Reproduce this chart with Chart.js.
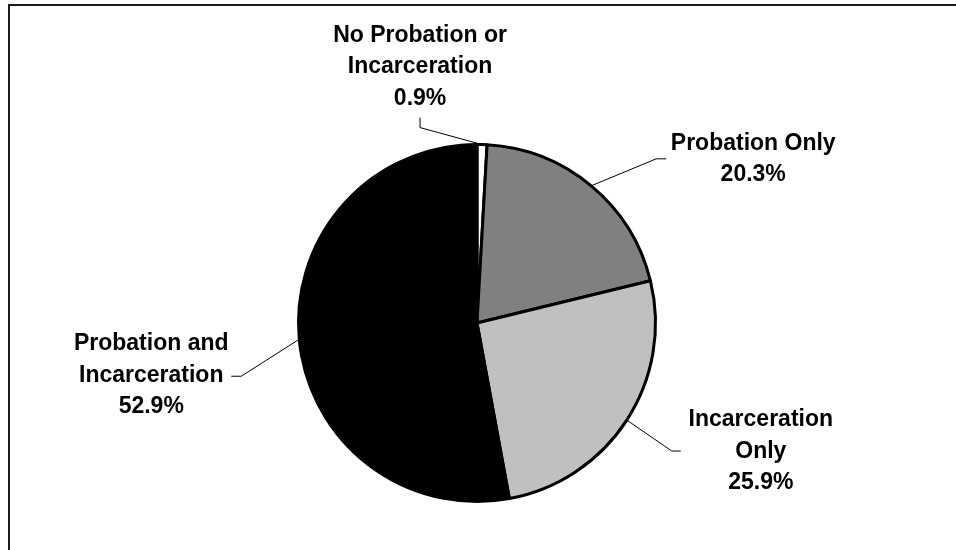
<!DOCTYPE html>
<html>
<head>
<meta charset="utf-8">
<script src="https://cdn.jsdelivr.net/npm/chart.js@4.4.1/dist/chart.umd.min.js"></script>
<style>
  html, body { margin: 0; padding: 0; background: #fff; }
  #wrap { position: relative; width: 956px; height: 550px; }
</style>
</head>
<body>
<div id="wrap"><canvas id="pieChart" width="956" height="550"></canvas></div>
<script>
// --- data ---
const categories = [
    ['No Probation or', 'Incarceration'],
    ['Probation Only'],
    ['Incarceration', 'Only'],
    ['Probation and', 'Incarceration']
];
const shares = [0.9, 20.3, 25.9, 52.9];
const sliceColors = ['#ffffff', '#808080', '#c0c0c0', '#000000'];

// label placement relative to the slice edge point (style only)
const labelLayout = [
    { elbow: [-62, -17], tick: [-62, -27], text: [-62, -103] },
    { elbow: [65, -27], tick: [75, -27], text: [162, -36] },
    { elbow: [45, 31], tick: [54, 31], text: [134, 6] },
    { elbow: [-58, 37], tick: [-68, 37], text: [-148, 11] }
];

// frame around the chart (only top/left edges visible in the window)
const framePlugin = {
    id: 'frame',
    beforeDraw(chart) {
        const ctx = chart.ctx;
        ctx.save();
        ctx.strokeStyle = '#1a1a1a';
        ctx.lineWidth = 2;
        ctx.beginPath();
        ctx.moveTo(9, chart.height + 5);
        ctx.lineTo(9, 5);
        ctx.lineTo(chart.width + 5, 5);
        ctx.stroke();
        ctx.restore();
    }
};

// data labels with leader lines
const leaderLabels = {
    id: 'leaderLabels',
    afterDatasetsDraw(chart) {
        const ctx = chart.ctx;
        const meta = chart.getDatasetMeta(0);
        ctx.save();
        ctx.font = 'bold 23px "Liberation Sans", Arial, sans-serif';
        ctx.fillStyle = '#000';
        ctx.textAlign = 'center';
        ctx.textBaseline = 'alphabetic';
        meta.data.forEach((arc, i) => {
            const { x, y, startAngle, endAngle, outerRadius } = arc.getProps(['x', 'y', 'startAngle', 'endAngle', 'outerRadius'], true);
            const mid = (startAngle + endAngle) / 2;
            const ex = x + Math.cos(mid) * outerRadius;
            const ey = y + Math.sin(mid) * outerRadius;
            const L = labelLayout[i];

            ctx.strokeStyle = '#000';
            ctx.lineWidth = 1;
            ctx.beginPath();
            ctx.moveTo(ex, ey);
            ctx.lineTo(ex + L.elbow[0], ey + L.elbow[1]);
            ctx.lineTo(ex + L.tick[0], ey + L.tick[1]);
            ctx.stroke();

            const lines = categories[i].concat([shares[i].toFixed(1) + '%']);
            lines.forEach((t, k) => {
                ctx.fillText(t, ex + L.text[0], ey + L.text[1] + k * 31.5);
            });
        });
        ctx.restore();
    }
};

new Chart(document.getElementById('pieChart'), {
    type: 'pie',
    data: {
        labels: categories.map(c => c.join(' ')),
        datasets: [{
            data: shares,
            backgroundColor: sliceColors,
            borderColor: '#000',
            borderWidth: 3,
            borderAlign: 'center'
        }]
    },
    options: {
        responsive: false,
        animation: false,
        layout: { padding: { top: 143, bottom: 47, left: 0, right: 2 } },
        plugins: {
            legend: { display: false },
            tooltip: { enabled: false }
        }
    },
    plugins: [framePlugin, leaderLabels]
});
</script>
</body>
</html>
